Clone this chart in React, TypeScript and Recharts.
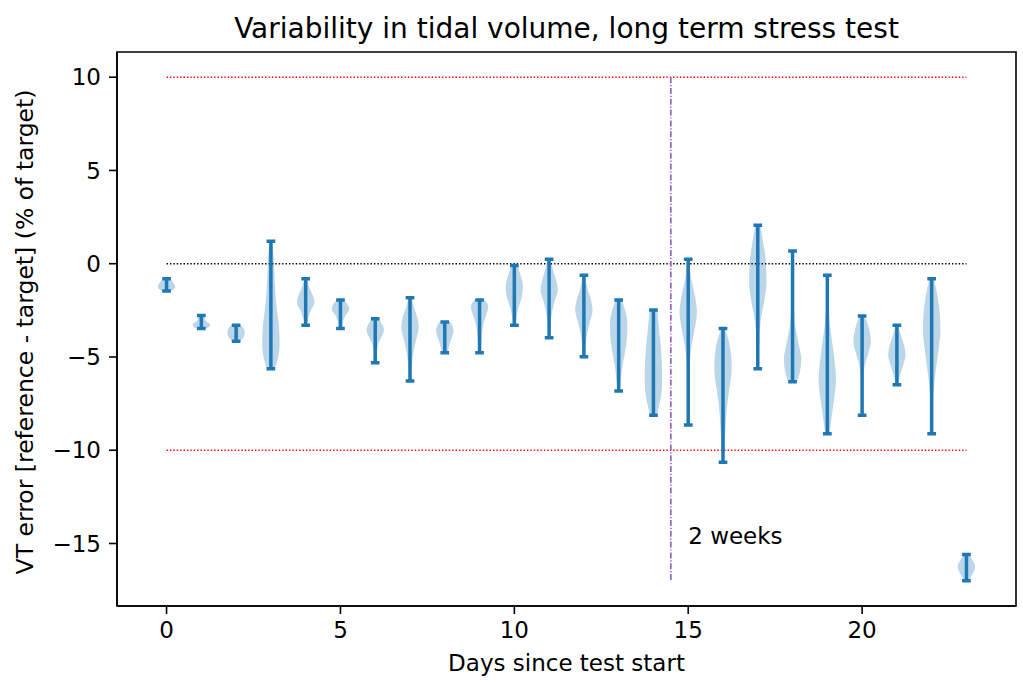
import React from 'react';
import {
  ComposedChart,
  Area,
  Line,
  XAxis,
  YAxis,
  ReferenceLine,
  ReferenceArea,
  ReferenceDot,
} from 'recharts';

const days = [0, 1, 2, 3, 4, 5, 6, 7, 8, 9, 10, 11, 12, 13, 14, 15, 16, 17, 18, 19, 20, 21, 22, 23];
const maxVals = [
  -0.8, -2.77, -3.3, 1.2, -0.8, -1.95, -2.95, -1.82, -3.13, -1.95, -0.09, 0.24,
  -0.62, -1.95, -2.48, 0.24, -3.47, 2.06, 0.68, -0.62, -2.8, -3.3, -0.8, -15.59,
];
const minVals = [
  -1.46, -3.47, -4.15, -5.63, -3.3, -3.47, -5.31, -6.29, -4.77, -4.77, -3.3, -3.97,
  -4.99, -6.83, -8.13, -8.65, -10.64, -5.63, -6.33, -9.12, -8.13, -6.49, -9.12, -16.99,
];

// violin outline: [value, half-width as fraction of the widest point], top to bottom
const bodyProfiles: [number, number][][] = [
  [[-0.8, 0.45], [-0.95, 0.7], [-1.1, 0.9], [-1.25, 1.0], [-1.38, 0.8], [-1.46, 0.5]],
  [[-2.77, 0.3], [-2.95, 0.4], [-3.1, 0.6], [-3.25, 1.0], [-3.38, 0.9], [-3.47, 0.6]],
  [[-3.3, 0.5], [-3.5, 0.9], [-3.7, 1.0], [-3.9, 0.9], [-4.05, 0.65], [-4.15, 0.45]],
  [[1.2, 0.15], [0.5, 0.3], [-0.5, 0.4], [-1.5, 0.5], [-2.5, 0.7], [-3.5, 0.95], [-4.3, 1.0], [-5.0, 0.85], [-5.63, 0.45]],
  [[-0.8, 0.15], [-1.3, 0.45], [-1.8, 0.9], [-2.1, 1.0], [-2.5, 0.6], [-2.9, 0.3], [-3.3, 0.15]],
  [[-1.95, 0.4], [-2.2, 0.85], [-2.45, 1.0], [-2.75, 0.6], [-3.1, 0.3], [-3.47, 0.2]],
  [[-2.95, 0.4], [-3.25, 0.8], [-3.55, 1.0], [-3.9, 0.75], [-4.3, 0.35], [-4.8, 0.2], [-5.31, 0.15]],
  [[-1.82, 0.15], [-2.4, 0.5], [-3.0, 0.9], [-3.4, 1.0], [-4.0, 0.75], [-4.7, 0.4], [-5.5, 0.2], [-6.29, 0.1]],
  [[-3.13, 0.6], [-3.35, 0.9], [-3.6, 1.0], [-3.9, 0.85], [-4.3, 0.55], [-4.77, 0.35]],
  [[-1.95, 0.6], [-2.3, 1.0], [-2.7, 0.8], [-3.2, 0.45], [-3.8, 0.25], [-4.77, 0.15]],
  [[-0.09, 0.35], [-0.6, 0.7], [-1.2, 1.0], [-1.8, 0.85], [-2.4, 0.45], [-2.9, 0.25], [-3.3, 0.15]],
  [[0.24, 0.15], [-0.4, 0.5], [-1.0, 0.85], [-1.4, 1.0], [-2.0, 0.65], [-2.7, 0.3], [-3.4, 0.15], [-3.97, 0.1]],
  [[-0.62, 0.15], [-1.3, 0.4], [-2.0, 0.85], [-2.5, 1.0], [-3.1, 0.7], [-3.8, 0.35], [-4.4, 0.2], [-4.99, 0.1]],
  [[-1.95, 0.35], [-2.5, 0.75], [-3.2, 1.0], [-4.0, 0.95], [-4.8, 0.7], [-5.6, 0.4], [-6.3, 0.25], [-6.83, 0.15]],
  [[-2.48, 0.45], [-3.3, 0.6], [-4.2, 0.8], [-5.2, 0.95], [-6.0, 1.0], [-6.8, 0.95], [-7.5, 0.7], [-8.13, 0.4]],
  [[0.24, 0.1], [-0.8, 0.35], [-1.8, 0.8], [-2.6, 1.0], [-3.5, 0.75], [-4.5, 0.35], [-5.5, 0.15], [-7.0, 0.1], [-8.65, 0.05]],
  [[-3.47, 0.2], [-4.2, 0.7], [-5.0, 0.95], [-5.6, 1.0], [-6.5, 0.8], [-7.5, 0.5], [-8.7, 0.3], [-9.7, 0.2], [-10.64, 0.1]],
  [[2.06, 0.3], [1.2, 0.6], [0.2, 0.9], [-1.0, 1.0], [-2.0, 0.75], [-3.0, 0.35], [-4.2, 0.15], [-5.63, 0.1]],
  [[0.68, 0.05], [-0.8, 0.1], [-2.2, 0.15], [-3.3, 0.3], [-4.3, 0.7], [-5.1, 1.0], [-5.8, 0.85], [-6.33, 0.5]],
  [[-0.62, 0.05], [-2.0, 0.1], [-3.3, 0.3], [-4.5, 0.65], [-5.5, 0.9], [-6.2, 1.0], [-7.2, 0.8], [-8.2, 0.5], [-9.12, 0.25]],
  [[-2.8, 0.3], [-3.5, 0.8], [-4.2, 1.0], [-4.9, 0.65], [-5.6, 0.25], [-6.8, 0.1], [-8.13, 0.08]],
  [[-3.3, 0.15], [-3.9, 0.5], [-4.5, 0.9], [-4.9, 1.0], [-5.4, 0.75], [-6.0, 0.35], [-6.49, 0.15]],
  [[-0.8, 0.25], [-1.8, 0.7], [-2.8, 0.95], [-3.6, 1.0], [-4.6, 0.8], [-5.8, 0.45], [-7.0, 0.2], [-8.2, 0.1], [-9.12, 0.05]],
  [[-15.59, 0.35], [-15.9, 0.7], [-16.2, 1.0], [-16.5, 0.85], [-16.75, 0.55], [-16.99, 0.3]],
];

const xTicks = [0, 5, 10, 15, 20];
const yTicks = [-15, -10, -5, 0, 5, 10];
const xDomain = [-1.425, 24.425];
const yDomain = [-18.35, 11.35];
const limitLines = [10, -10];
const weekMark = 14.5;

const BLUE = '#1f77b4';
const HALF_WIDTH = 0.25; // matplotlib widths=0.5
const CAP = 0.125;
const FONT = '"DejaVu Sans", sans-serif';
const LABEL_SIZE = 23;

const fmt = (v: number) => (v < 0 ? `\u2212${Math.abs(v)}` : String(v));

export default function App() {
  const axisStyle = { stroke: '#000', strokeWidth: 1.6 };
  const tickStyle = { fill: '#000', fontSize: LABEL_SIZE, fontFamily: FONT };
  return (
    <div style={{ position: 'absolute', left: 0, top: 0, width: 1023, height: 685, background: '#fff' }}>
      <ComposedChart
        width={1023}
        height={685}
        layout="vertical"
        margin={{ top: 52, right: 7, bottom: 39, left: 37 }}
      >
        <XAxis
          type="number"
          domain={xDomain}
          ticks={xTicks}
          allowDataOverflow
          height={40}
          tickSize={8}
          tickMargin={8}
          axisLine={axisStyle}
          tickLine={axisStyle}
          tick={tickStyle}
        />
        {/* vertical layout puts the value of YAxis top-down, so flip it */}
        <YAxis
          type="number"
          dataKey="v"
          reversed
          domain={yDomain}
          ticks={yTicks}
          allowDataOverflow
          width={80}
          tickSize={8}
          tickMargin={8}
          tickFormatter={fmt}
          axisLine={axisStyle}
          tickLine={axisStyle}
          tick={tickStyle}
        />
        <ReferenceArea
          x1={xDomain[0]}
          x2={xDomain[1]}
          y1={yDomain[0]}
          y2={yDomain[1]}
          fill="none"
          stroke="#000"
          strokeWidth={1.6}
          ifOverflow="visible"
        />
        {limitLines.map(y => (
          <ReferenceLine
            key={`lim${y}`}
            segment={[{ x: days[0], y }, { x: days[days.length - 1], y }]}
            stroke="#ff0000"
            strokeWidth={1.4}
            strokeDasharray="1.4 2"
          />
        ))}
        <ReferenceLine
          segment={[{ x: days[0], y: 0 }, { x: days[days.length - 1], y: 0 }]}
          stroke="#000"
          strokeWidth={1.4}
          strokeDasharray="1.4 2"
        />
        <ReferenceLine
          segment={[{ x: weekMark, y: 10 }, { x: weekMark, y: -17 }]}
          stroke="#9467bd"
          strokeWidth={1.7}
          strokeDasharray="6 1.8 1.2 1.8"
        />
        <ReferenceDot
          x={15}
          y={-15}
          r={0}
          shape={(p: any) => (
            <text x={p.cx} y={p.cy} fontSize={LABEL_SIZE} fontFamily={FONT} fill="#000" textAnchor="start">
              2 weeks
            </text>
          )}
        />
        {days.map((d, i) => (
          <Area
            key={`body${d}`}
            data={bodyProfiles[i].map(([v, f]) => ({ v, lo: d - f * HALF_WIDTH, hi: d + f * HALF_WIDTH }))}
            dataKey={(e: any) => [e.lo, e.hi]}
            type="monotone"
            fill={BLUE}
            fillOpacity={0.3}
            stroke="none"
            dot={false}
            activeDot={false}
            isAnimationActive={false}
          />
        ))}
        {days.map((d, i) => (
          <Line
            key={`bar${d}`}
            data={[
              { v: maxVals[i], x: d - CAP },
              { v: maxVals[i], x: d + CAP },
              { v: maxVals[i], x: d },
              { v: minVals[i], x: d },
              { v: minVals[i], x: d - CAP },
              { v: minVals[i], x: d + CAP },
            ]}
            dataKey="x"
            type="linear"
            stroke={BLUE}
            strokeWidth={3.5}
            dot={false}
            activeDot={false}
            isAnimationActive={false}
          />
        ))}
      </ComposedChart>
      <svg
        width={1023}
        height={685}
        style={{ position: 'absolute', left: 0, top: 0, pointerEvents: 'none' }}
        fontFamily={FONT}
        fill="#000"
      >
        <text x={566.5} y={37.5} fontSize={28} textAnchor="middle">
          Variability in tidal volume, long term stress test
        </text>
        <text x={566.5} y={671} fontSize={LABEL_SIZE} textAnchor="middle">
          Days since test start
        </text>
        <text transform="translate(33,332) rotate(-90)" fontSize={23.5} textAnchor="middle">
          VT error [reference - target] (% of target)
        </text>
      </svg>
    </div>
  );
}
